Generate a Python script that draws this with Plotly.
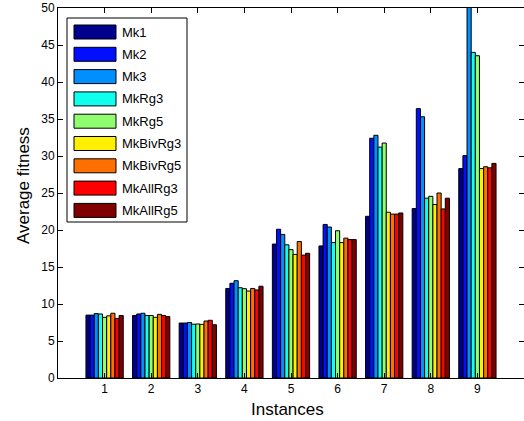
import plotly.graph_objects as go

# ---------------- data ----------------
instances = [1, 2, 3, 4, 5, 6, 7, 8, 9]
series_names = ["Mk1", "Mk2", "Mk3", "MkRg3", "MkRg5", "MkBivRg3", "MkBivRg5", "MkAllRg3", "MkAllRg5"]

mk1      = [8.50, 8.45, 7.43, 12.10, 18.10, 17.85, 21.85, 22.90, 28.30]
mk2      = [8.50, 8.65, 7.43, 12.80, 20.10, 20.75, 32.40, 36.40, 30.05]
mk3      = [8.70, 8.75, 7.50, 13.15, 19.40, 20.40, 32.80, 35.30, 51.00]
mkrg3    = [8.65, 8.45, 7.27, 12.20, 18.00, 18.30, 31.20, 24.30, 44.00]
mkrg5    = [8.20, 8.45, 7.30, 12.07, 17.35, 19.90, 31.75, 24.55, 43.55]
mkbivrg3 = [8.40, 8.20, 7.25, 11.75, 16.70, 18.30, 22.40, 23.45, 28.30]
mkbivrg5 = [8.75, 8.60, 7.70, 12.10, 18.45, 18.90, 22.15, 25.00, 28.55]
mkallrg3 = [8.05, 8.45, 7.80, 11.90, 16.60, 18.70, 22.15, 22.85, 28.40]
mkallrg5 = [8.45, 8.30, 7.20, 12.40, 16.85, 18.70, 22.30, 24.30, 29.00]

series_values = [mk1, mk2, mk3, mkrg3, mkrg5, mkbivrg3, mkbivrg5, mkallrg3, mkallrg5]

# jet colormap samples (MATLAB bar default)
colors = ["rgb(0,0,143)", "rgb(0,16,255)", "rgb(0,143,255)", "rgb(16,255,239)",
          "rgb(143,255,112)", "rgb(255,239,0)", "rgb(255,112,0)", "rgb(255,0,0)",
          "rgb(128,0,0)"]

y_ticks = [0, 5, 10, 15, 20, 25, 30, 35, 40, 45, 50]

FONT = "Liberation Sans, Arial, Helvetica, sans-serif"

fig = go.Figure()
for name, vals, col in zip(series_names, series_values, colors):
    fig.add_trace(go.Bar(
        x=instances, y=vals, name=name, showlegend=False,
        marker=dict(color=col, line=dict(color="black", width=1)),
    ))

# ------------- layout -------------
W, H = 524, 421
L, R, T, B = 58, 0, 8, 43
PW, PH = W - L - R, H - T - B


def px(x):
    return (x - L) / PW


def py(y):
    return (T + PH - y) / PH


shapes = []
annotations = []

# custom legend (MATLAB-style wide swatches)
shapes.append(dict(type="rect", xref="paper", yref="paper",
                   x0=px(67), x1=px(187), y0=py(222), y1=py(18),
                   line=dict(color="black", width=1), fillcolor="white", layer="above"))
for i, (name, col) in enumerate(zip(series_names, colors)):
    c = 32 + i * 22.3
    shapes.append(dict(type="rect", xref="paper", yref="paper",
                       x0=px(74), x1=px(116), y0=py(c + 7), y1=py(c - 7),
                       line=dict(color="black", width=1), fillcolor=col, layer="above"))
    annotations.append(dict(xref="paper", yref="paper", x=px(120), y=py(c),
                            text=name, showarrow=False, xanchor="left", yanchor="middle",
                            font=dict(family=FONT, size=13, color="black")))

# axis titles
annotations.append(dict(xref="paper", yref="paper", x=px(287), y=py(409),
                        text="Instances", showarrow=False, xanchor="center", yanchor="middle",
                        font=dict(family=FONT, size=17, color="black")))
annotations.append(dict(xref="paper", yref="paper", x=px(23), y=py(186),
                        text="Average fitness", showarrow=False, textangle=-90,
                        xanchor="center", yanchor="middle",
                        font=dict(family=FONT, size=17, color="black")))

fig.update_layout(
    width=W, height=H,
    margin=dict(l=L, r=R, t=T, b=B, pad=0, autoexpand=False),
    paper_bgcolor="white", plot_bgcolor="white",
    barmode="group", bargap=0.2, bargroupgap=0,
    font=dict(family=FONT, size=11, color="black"),
    shapes=shapes, annotations=annotations,
    xaxis=dict(range=[0, 10], tickvals=instances, ticktext=[str(v) for v in instances],
               ticks="inside", ticklen=5, tickcolor="black",
               showline=True, linecolor="black", linewidth=1, mirror="ticks",
               showgrid=False, zeroline=False, automargin=False,
               tickfont=dict(family=FONT, size=12)),
    yaxis=dict(range=[0, 50], tickvals=y_ticks,
               ticks="inside", ticklen=5, tickcolor="black",
               showline=True, linecolor="black", linewidth=1, mirror="ticks",
               showgrid=False, zeroline=False, automargin=False,
               tickfont=dict(family=FONT, size=12)),
)

fig.write_html("out.html", config={"displayModeBar": False},
               post_script="document.body.style.margin='0';document.body.style.overflow='hidden';")
